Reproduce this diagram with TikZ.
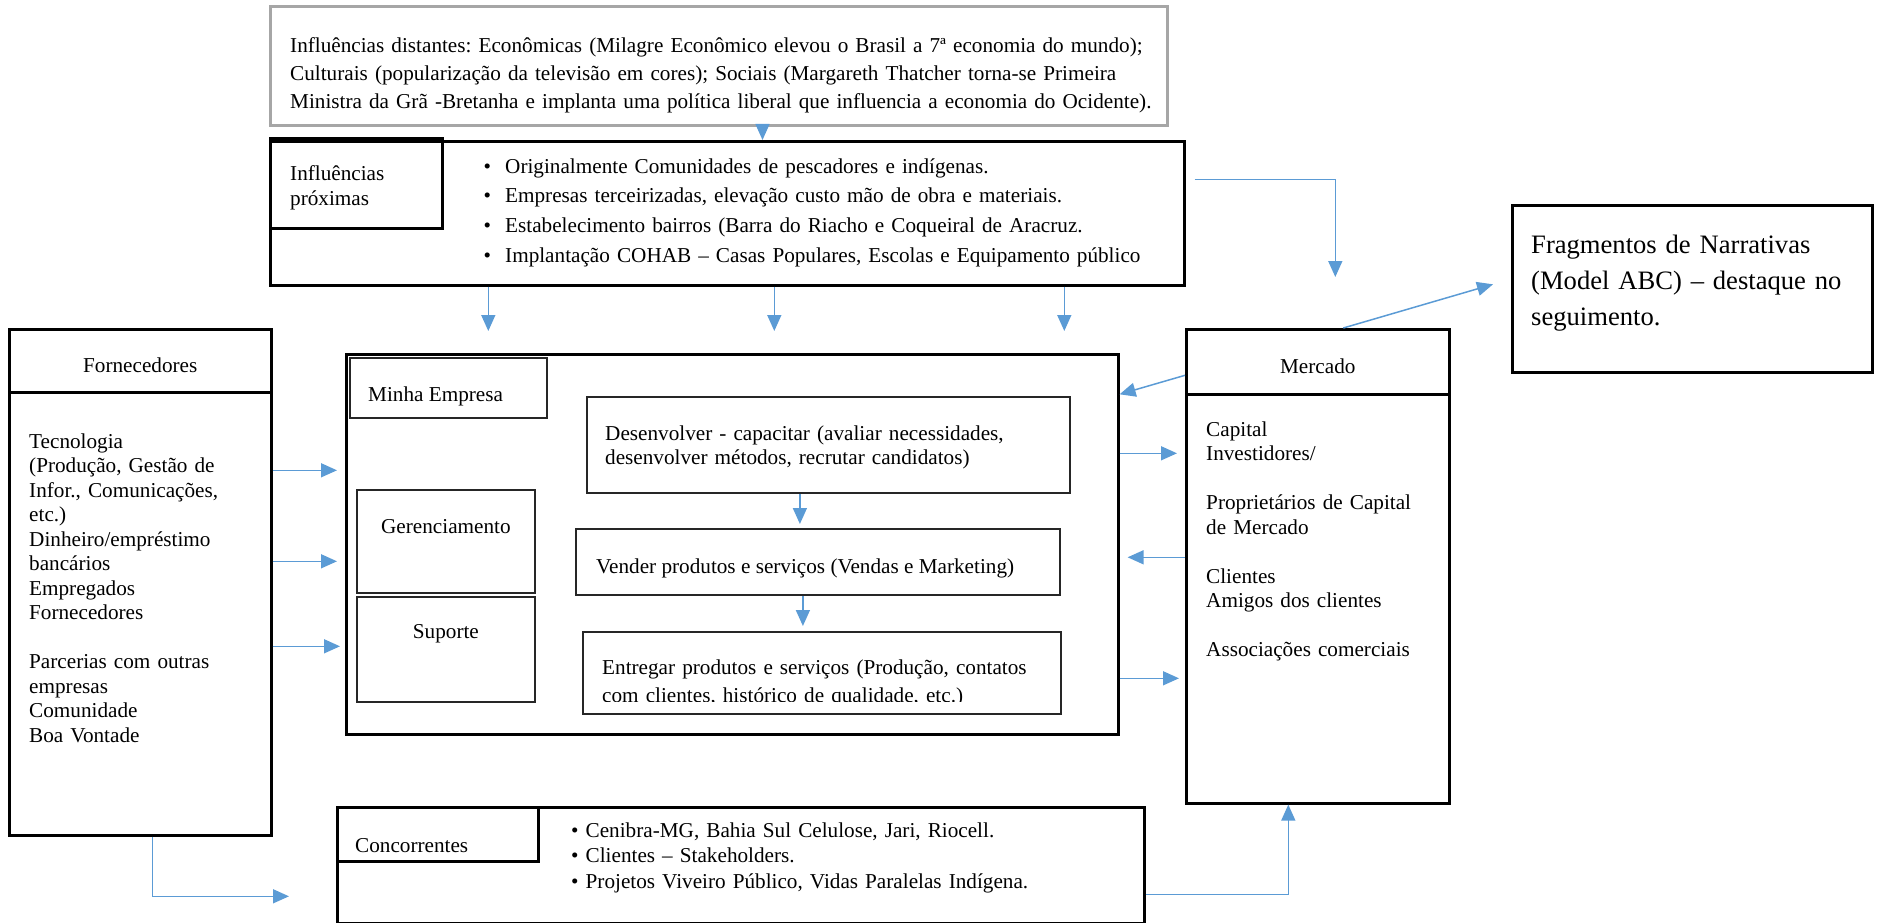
\documentclass[tikz,border=0pt]{standalone}
\usepackage{fontspec}
\setmainfont{Liberation Serif}
\usetikzlibrary{arrows.meta, calc, positioning}
\definecolor{link_blue}{HTML}{5B9BD5}
\definecolor{frame_gray}{HTML}{A6A6A6}
\tikzstyle{outer_box}=[rectangle, draw=black, line width=2.6, inner sep=0, anchor=north west]
\tikzstyle{inner_box}=[rectangle, draw=black!85, line width=1.8, inner sep=0, anchor=north west]
\tikzstyle{distant_box}=[rectangle, draw=frame_gray, line width=3, inner sep=0, anchor=north west]
\tikzstyle{body_text}=[inner sep=0, align=left, anchor=base west]
\tikzstyle{blue_link}=[draw=link_blue, line width=1.5, -{Triangle[length=16pt, width=14pt]}]
\newcommand{\fullline}[1]{\makebox[855pt][s]{#1}}
\newcommand{\bulletbox}{\makebox[21.5pt][l]{\textbullet}}

\begin{document}
\begin{tikzpicture}[x=1pt, y=-1pt, font=\fontsize{21.2}{24.5}\selectfont\frenchspacing]
\useasboundingbox (0,0) rectangle (1877,923);

% Distant influences
\node [distant_box, minimum width=897, minimum height=119] (distant) at (269,5) {};
\node [body_text, text width=920, font=\fontsize{21.2}{28}\selectfont\frenchspacing] (distant_txt)
    at ($(distant.north west)+(21,48)$)
    {\fullline{Influências distantes: Econômicas (Milagre Econômico elevou o Brasil a 7ª economia do mundo);}\\
     \fullline{Culturais (popularização da televisão em cores); Sociais (Margareth Thatcher torna-se Primeira}\\
     \mbox{Ministra da Grã -Bretanha e implanta uma política liberal que influencia a economia do Ocidente).}};

% Near influences
\node [outer_box, minimum width=914, minimum height=144] (prox) at (269,140) {};
\node [outer_box, minimum width=172, minimum height=90] (prox_head) at (269,137) {};
\node [body_text, text width=140] (prox_head_txt) at ($(prox_head.north west)+(21,44)$) {Influências\\próximas};
\node [body_text, text width=680, font=\fontsize{21.2}{29.7}\selectfont\frenchspacing] (prox_list)
    at ($(prox.north west)+(214.5,33)$)
    {\bulletbox Originalmente Comunidades de pescadores e indígenas.\\
     \bulletbox Empresas terceirizadas, elevação custo mão de obra e materiais.\\
     \bulletbox Estabelecimento bairros (Barra do Riacho e Coqueiral de Aracruz.\\
     \bulletbox Implantação COHAB – Casas Populares, Escolas e Equipamento público};

% Narrative note
\node [outer_box, minimum width=360, minimum height=167] (frag) at (1511,204) {};
\node [body_text, text width=340, font=\fontsize{26.6}{36}\selectfont\frenchspacing] (frag_txt)
    at ($(frag.north west)+(20,49)$)
    {Fragmentos de Narrativas\\(Model ABC) – destaque no\\seguimento.};

% Suppliers
\node [outer_box, minimum width=262, minimum height=506] (forn) at (8,328) {};
\node [outer_box, minimum width=262, minimum height=63] (forn_head) at (8,328) {};
\node [body_text, anchor=base] (forn_head_txt) at ($(forn_head.north)+(0,44)$) {Fornecedores};
\node [body_text, text width=230] (forn_list) at ($(forn.north west)+(21,120)$)
    {Tecnologia\\(Produção, Gestão de\\Infor., Comunicações,\\etc.)\\Dinheiro/empréstimo\\bancários\\Empregados\\Fornecedores\\[24.5pt]
     Parcerias com outras\\empresas\\Comunidade\\Boa Vontade};

% Market
\node [outer_box, minimum width=263, minimum height=474] (merc) at (1185,328) {};
\node [outer_box, minimum width=263, minimum height=65] (merc_head) at (1185,328) {};
\node [body_text, anchor=base] (merc_head_txt) at ($(merc_head.north)+(0,45)$) {Mercado};
\node [body_text, text width=235] (merc_list) at ($(merc.north west)+(21,108)$)
    {Capital\\Investidores/\\[24.5pt]Proprietários de Capital\\de Mercado\\[24.5pt]
     Clientes\\Amigos dos clientes\\[24.5pt]Associações comerciais};

% My company
\node [outer_box, minimum width=772, minimum height=380] (minha) at (345,353) {};
\node [inner_box, minimum width=197, minimum height=60] (minha_head) at (349,357) {};
\node [body_text] (minha_head_txt) at ($(minha_head.north west)+(19,44)$) {Minha Empresa};
\node [inner_box, minimum width=178, minimum height=103] (ger) at (356,489) {};
\node [body_text, anchor=base] (ger_txt) at ($(ger.north)+(0,44)$) {Gerenciamento};
\node [inner_box, minimum width=178, minimum height=105] (sup) [below=2pt of ger.south west, anchor=north west] {};
\node [body_text, anchor=base] (sup_txt) at ($(sup.north)+(0,43)$) {Suporte};

\node [inner_box, minimum width=483, minimum height=96] (dev) at (586,396) {};
\node [body_text, text width=460, font=\fontsize{21.2}{24}\selectfont\frenchspacing] (dev_txt) at ($(dev.north west)+(19,44)$)
    {Desenvolver - capacitar (avaliar necessidades,\\desenvolver métodos, recrutar candidatos)};
\node [inner_box, minimum width=484, minimum height=66] (ven) at (575,528) {};
\node [body_text] (ven_txt) at ($(ven.north west)+(21,45)$) {Vender produtos e serviços (Vendas e Marketing)};
\node [inner_box, minimum width=478, minimum height=82] (ent) at (582,631) {};
\begin{scope}
\clip (ent.north west) rectangle ($(ent.south east)+(0,-13)$);
\node [body_text, text width=450, font=\fontsize{21.2}{28}\selectfont\frenchspacing] (ent_txt) at ($(ent.north west)+(20,43)$)
    {Entregar produtos e serviços (Produção, contatos\\com clientes, histórico de qualidade, etc.)};
\end{scope}

% Competitors
\node [outer_box, minimum width=807, minimum height=116] (conc) at (336,806) {};
\node [outer_box, minimum width=201, minimum height=54] (conc_head) at (336,806) {};
\node [body_text] (conc_head_txt) at ($(conc_head.north west)+(19,46)$) {Concorrentes};
\node [body_text, text width=560, font=\fontsize{21.2}{25.5}\selectfont\frenchspacing] (conc_list)
    at ($(conc.north west)+(235,31)$)
    {\textbullet{} Cenibra-MG, Bahia Sul Celulose, Jari, Riocell.\\
     \textbullet{} Clientes – Stakeholders.\\
     \textbullet{} Projetos Viveiro Público, Vidas Paralelas Indígena.};

% influences arrows
\draw [blue_link] ([xshift=43.5pt]distant.south) -- ([xshift=43.5pt]distant.south |- prox.north);
\draw [blue_link, shorten >=22] ([xshift=-239pt]prox.south) -- ([xshift=-239pt]prox.south |- minha.north);
\draw [blue_link, shorten >=22] ([xshift=47pt]prox.south) -- ([xshift=47pt]prox.south |- minha.north);
\draw [blue_link, shorten >=22] ([xshift=337pt]prox.south) -- ([xshift=337pt]prox.south |- minha.north);
\draw [blue_link] ([xshift=9pt, yshift=34pt]prox.east) -| ([xshift=17.5pt, yshift=51pt]merc.north);

% suppliers to company
\draw [blue_link, shorten >=8] ([yshift=112pt]forn.east) -- ([yshift=112pt]forn.east -| minha.west);
\draw [blue_link, shorten >=8] ([yshift=21pt]forn.east) -- ([yshift=21pt]forn.east -| minha.west);
\draw [blue_link, shorten >=5] ([yshift=-64pt]forn.east) -- ([yshift=-64pt]forn.east -| minha.west);

% inside the company
\draw [blue_link, shorten >=4] ([xshift=-28.5pt]dev.south) -- ([xshift=-28.5pt]dev.south |- ven.north);
\draw [blue_link, shorten >=5] ([xshift=-15pt]ven.south) -- ([xshift=-15pt]ven.south |- ent.north);

% company and market
\draw [blue_link] ([yshift=191pt]merc.west) -- ([yshift=150pt]minha.east);
\draw [blue_link, shorten >=8] ([yshift=91pt]minha.east) -- ([yshift=91pt]minha.east -| merc.west);
\draw [blue_link, shorten >=8] ([yshift=9pt]merc.west) -- ([yshift=9pt]merc.west -| minha.east);
\draw [blue_link, shorten >=6] ([yshift=-134pt]minha.east) -- ([yshift=-134pt]minha.east -| merc.west);
\draw [blue_link] ([xshift=25.5pt]merc.north) -- ([xshift=-18pt, yshift=4.5pt]frag.west);

% competitors loop
\draw [blue_link] ([xshift=12pt]forn.south) |- ([xshift=-47pt, yshift=-31pt]conc.west);
\draw [blue_link] ([yshift=-29pt]conc.east) -| ([xshift=-29.5pt]merc.south);

\end{tikzpicture}
\end{document}
